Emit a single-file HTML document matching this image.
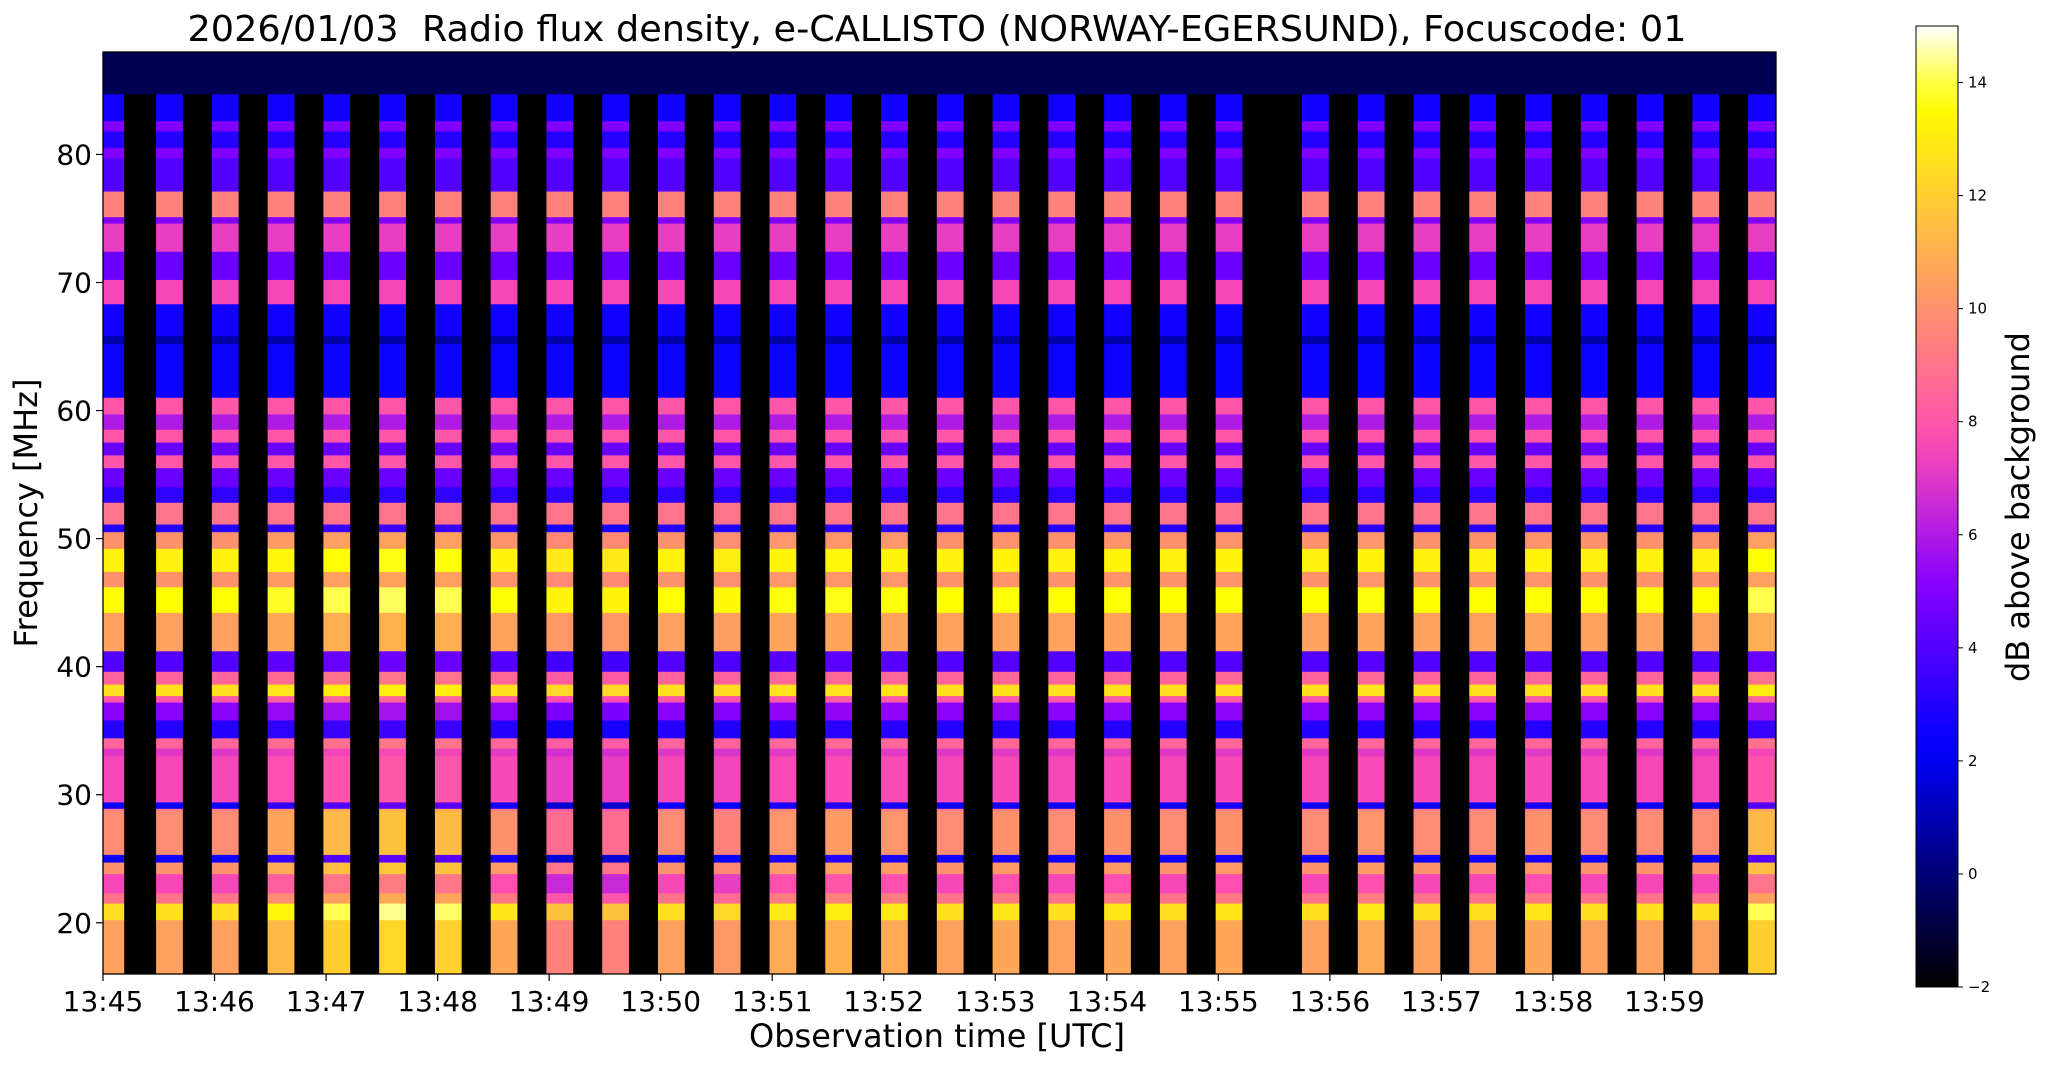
<!DOCTYPE html>
<html><head><meta charset="utf-8"><style>
html,body{margin:0;padding:0;background:#fff;}
svg{display:block;font-family:"DejaVu Sans","Liberation Sans",sans-serif;}
</style></head><body>
<svg id="chart" width="2047" height="1067" viewBox="0 0 2047 1067" xmlns="http://www.w3.org/2000/svg">
<text x="937" y="41" font-size="36" text-anchor="middle" textLength="1499" lengthAdjust="spacingAndGlyphs">2026/01/03&#160; Radio flux density, e-CALLISTO (NORWAY-EGERSUND), Focuscode: 01</text>
<g id="plot"></g>
<g id="axes"></g>
<g id="cbar"></g>
<text x="937" y="1047" font-size="32" text-anchor="middle">Observation time [UTC]</text>
<text transform="translate(37,513) rotate(-90)" font-size="32" text-anchor="middle">Frequency [MHz]</text>
<text transform="translate(2029,507) rotate(-90)" font-size="32" text-anchor="middle">dB above background</text>
</svg>
<script>
// time in minutes after 13:45
const stripeStarts = [-0.05,0.476,0.976,1.476,1.976,2.476,2.976,3.476,3.976,4.476,4.976,5.476,5.976,6.476,6.976,7.476,7.976,8.476,8.976,9.476,9.976,10.75,11.25,11.75,12.25,12.75,13.25,13.75,14.25,14.75];
const stripeWidth = 0.24;
// low-frequency brightness offset per stripe (dB)
const stripeGain = [0,0,0,0.8,1.5,1.8,1.6,0.2,-1,-1,0,-0.3,0.3,0.5,0.3,0,0.2,0,0.2,0,0.2,0,0.3,0,0,0.2,0,0,0,1.5];
const bandLo = [84.7,82.6,81.8,80.5,79.7,77.1,75.1,74.6,72.4,70.2,68.3,65.8,65.2,61.0,59.7,58.5,57.5,56.5,55.5,54.0,52.8,51.1,50.5,49.2,47.4,46.2,44.2,41.2,39.6,38.6,37.7,37.2,35.8,34.4,33.6,33.0,29.4,28.9,28.7,25.3,24.7,23.8,22.3,21.5,20.2,16.0];
const bandHi = [88.0,84.7,82.6,81.8,80.5,79.7,77.1,75.1,74.6,72.4,70.2,68.3,65.8,65.2,61.0,59.7,58.5,57.5,56.5,55.5,54.0,52.8,51.1,50.5,49.2,47.4,46.2,44.2,41.2,39.6,38.6,37.7,37.2,35.8,34.4,33.6,33.0,29.4,28.9,28.7,25.3,24.7,23.8,22.3,21.5,20.2];
const bandDb = [-0.6,2.6,5.0,3.0,5.0,4.0,9.5,5.0,7.2,4.5,7.5,2.6,0.8,2.5,8.0,6.0,8.0,4.5,8.0,4.5,3.2,9.0,3.0,10.0,13.2,10.0,13.6,10.5,4.0,8.5,12.6,8.0,5.2,3.0,8.5,7.0,7.5,2.5,9.2,9.8,2.5,10.0,7.5,9.0,12.6,10.5];
const yTicks = [20,30,40,50,60,70,80];
const xTickLabels = ["13:45","13:46","13:47","13:48","13:49","13:50","13:51","13:52","13:53","13:54","13:55","13:56","13:57","13:58","13:59"];
const cbTicks = [-2,0,2,4,6,8,10,12,14];

const NS="http://www.w3.org/2000/svg";
const PL=103, PR=1776, PT=52, PB=974;
const F0=16, F1=88, T0=0, T1=15;
const CL=1916, CR=1958, CT=26, CB=987, V0=-2, V1=15;
const xs = t => PL + (t-T0)/(T1-T0)*(PR-PL);
const ys = f => PB - (f-F0)/(F1-F0)*(PB-PT);
const cy = v => CB - (v-V0)/(V1-V0)*(CB-CT);
function cmap(v){
  let x=(v-V0)/(V1-V0); x=Math.max(0,Math.min(1,x));
  const cl=a=>Math.max(0,Math.min(1,a));
  const r=cl(x/0.32-0.78125), g=cl(2*x-0.84);
  let b; if(x<0.25)b=4*x; else if(x<0.42)b=1; else if(x<0.92)b=-2*x+1.84; else b=x/0.08-11.5;
  b=cl(b);
  return `rgb(${Math.round(r*255)},${Math.round(g*255)},${Math.round(b*255)})`;
}
function mk(tag,attrs,parent){const e=document.createElementNS(NS,tag);for(const k in attrs)e.setAttribute(k,attrs[k]);parent.appendChild(e);return e;}
const plotG=document.getElementById('plot');
const axesG=document.getElementById('axes');
const cbarG=document.getElementById('cbar');

const bgRect=mk('rect',{x:PL,y:PT,width:PR-PL,height:PB-PT,fill:cmap(-2)},plotG);


const topBand=mk('rect',{x:PL,y:ys(bandHi[0]),width:PR-PL,height:ys(bandLo[0])-ys(bandHi[0]),fill:cmap(bandDb[0])},plotG);



stripeStarts.forEach((s,i)=>{
  const g=mk('g',{},plotG);
  
  
  const t0=Math.max(T0,s), t1=Math.min(T1,s+stripeWidth);
  for(let j=1;j<bandDb.length;j++){
    let v=bandDb[j];
    if(bandHi[j]<=30) v+=stripeGain[i];
    else if(bandHi[j]<=52) v+=stripeGain[i]*0.3;
    const r=mk('rect',{x:xs(t0),y:ys(bandHi[j]),width:xs(t1)-xs(t0),height:ys(bandLo[j])-ys(bandHi[j])+0.5,fill:cmap(v)},g);
    
    
  }
});
mk('rect',{x:PL,y:PT,width:PR-PL,height:PB-PT,fill:'none',stroke:'#000','stroke-width':1.3},axesG);

yTicks.forEach(f=>{
  mk('line',{x1:PL-7,x2:PL,y1:ys(f),y2:ys(f),stroke:'#000','stroke-width':1.2},axesG);
  const t=mk('text',{x:PL-11,y:ys(f)+10,'font-size':28,'text-anchor':'end'},axesG);
  t.textContent=f;
  
  
});
xTickLabels.forEach((l,i)=>{
  mk('line',{x1:xs(i),x2:xs(i),y1:PB,y2:PB+7,stroke:'#000','stroke-width':1.2},axesG);
  const t=mk('text',{x:xs(i),y:1011,'font-size':28,'text-anchor':'middle'},axesG);
  t.textContent=l;
  
  
});

const defs=mk('defs',{},cbarG);
const grad=mk('linearGradient',{id:'cbg',x1:0,y1:1,x2:0,y2:0},defs);
for(let k=0;k<=34;k++){const v=V0+(V1-V0)*k/34;mk('stop',{offset:k/34,'stop-color':cmap(v)},grad);}
const cbRect=mk('rect',{x:CL,y:CT,width:CR-CL,height:CB-CT,fill:'url(#cbg)',stroke:'#000','stroke-width':1},cbarG);


cbTicks.forEach(v=>{
  mk('line',{x1:CR,x2:CR+5,y1:cy(v),y2:cy(v),stroke:'#000','stroke-width':1},cbarG);
  const t=mk('text',{x:CR+10,y:cy(v)+5,'font-size':15},cbarG);
  t.textContent=v<0?'\u2212'+(-v):v;
  
  
});
</script>
</body></html>
